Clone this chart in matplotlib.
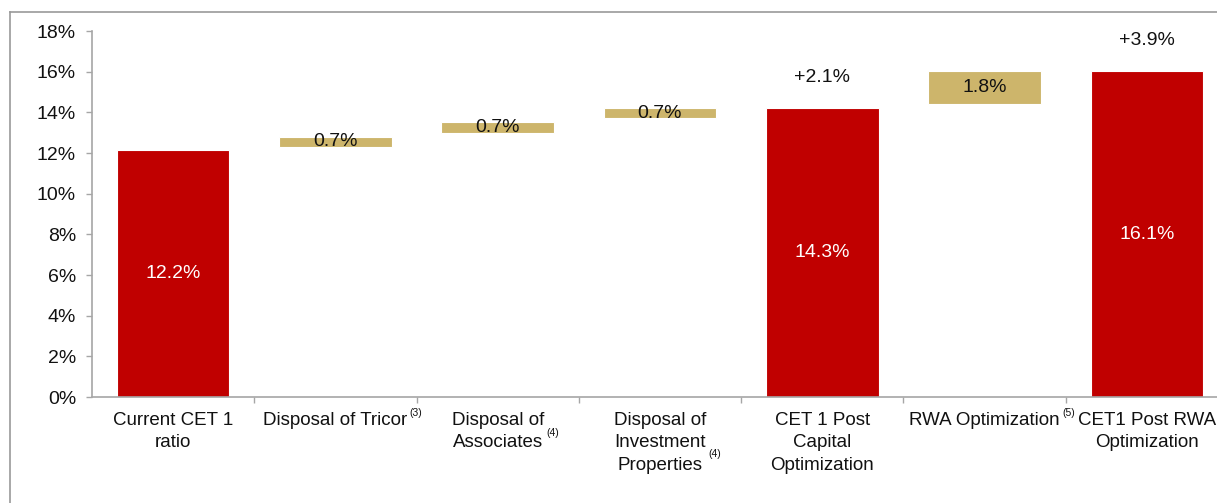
import matplotlib
matplotlib.use("Agg")
import matplotlib.pyplot as plt
from matplotlib.lines import Line2D

plt.rcParams["font.family"] = ["Liberation Sans", "DejaVu Sans"]

# waterfall data (% CET1)
categories = ["Current CET 1\nratio", "Disposal of Tricor", "Disposal of\nAssociates",
              "Disposal of\nInvestment\nProperties", "CET 1 Post\nCapital\nOptimization",
              "RWA Optimization", "CET1 Post RWA\nOptimization"]
footnotes = ["", "(3)", "(4)", "(4)", "", "(5)", ""]
bar_bottom = [0.0, 12.30, 12.99, 13.72, 0.0, 14.41, 0.0]
bar_top = [12.15, 12.79, 13.53, 14.21, 14.21, 16.03, 16.03]
is_total = [True, False, False, False, True, False, True]
value_labels = ["12.2%", "0.7%", "0.7%", "0.7%", "14.3%", "1.8%", "16.1%"]
delta_labels = {4: "+2.1%", 6: "+3.9%"}

RED = "#C00000"
GOLD = "#CDB56B"
GREY = "#A6A6A6"
FS = 14

fig = plt.figure(figsize=(12.17, 5.03), dpi=100)
ax = fig.add_axes([92 / 1217, 106 / 503, 1136 / 1217, 366 / 503])

x = list(range(len(categories)))
heights = [t - b for t, b in zip(bar_top, bar_bottom)]
colors = [RED if tot else GOLD for tot in is_total]
ax.bar(x, heights, bottom=bar_bottom, width=0.694, color=colors,
       edgecolor="white", linewidth=0.8, zorder=2)

for i in x:
    mid = (bar_bottom[i] + bar_top[i]) / 2
    ax.text(i, mid, value_labels[i], ha="center", va="center", fontsize=FS,
            color="white" if is_total[i] else "#111111", zorder=3)
for i, lab in delta_labels.items():
    ax.text(i, bar_top[i] + 1.5, lab, ha="center", va="center", fontsize=FS,
            color="#111111")

ax.set_xlim(-0.5, len(categories) - 0.5)
ax.set_ylim(0, 18)
ax.set_yticks(range(0, 19, 2))
ax.set_yticklabels([f"{v}%" for v in range(0, 19, 2)])

ax.set_xticks(x)
ax.set_xticklabels(categories, fontsize=13.5, color="#111111", linespacing=1.4)
ax.set_xticks([i + 0.5 for i in x[:-1]], minor=True)
ax.tick_params(axis="x", which="major", length=0, pad=11)
ax.tick_params(axis="x", which="minor", length=4.5, color=GREY, width=1)
ax.tick_params(axis="y", length=4.5, color=GREY, width=1, labelsize=FS,
               labelcolor="#111111", pad=7)

for s in ("top", "right"):
    ax.spines[s].set_visible(False)
for s in ("left", "bottom"):
    ax.spines[s].set_color(GREY)
    ax.spines[s].set_linewidth(1.2)

# footnote markers hung on the end of the label's last line
ticklabels = ax.get_xticklabels()
for i, note in enumerate(footnotes):
    if not note:
        continue
    nlines = categories[i].count("\n") + 1
    yfrac = 1.0 / nlines
    ax.annotate(note, xy=(1.0, yfrac), xycoords=ticklabels[i],
                xytext=(1.5, 3), textcoords="offset points",
                ha="left", va="top", fontsize=7.5, color="#111111",
                annotation_clip=False)

# outer frame (only top and left are visible in the crop)
fig.add_artist(Line2D([10 / 1217, 10 / 1217], [0, 1 - 12 / 503],
                      transform=fig.transFigure, color="#999999", lw=1.2))
fig.add_artist(Line2D([10 / 1217, 1], [1 - 12 / 503, 1 - 12 / 503],
                      transform=fig.transFigure, color="#999999", lw=1.2))

fig.savefig("out.png", dpi=100)
